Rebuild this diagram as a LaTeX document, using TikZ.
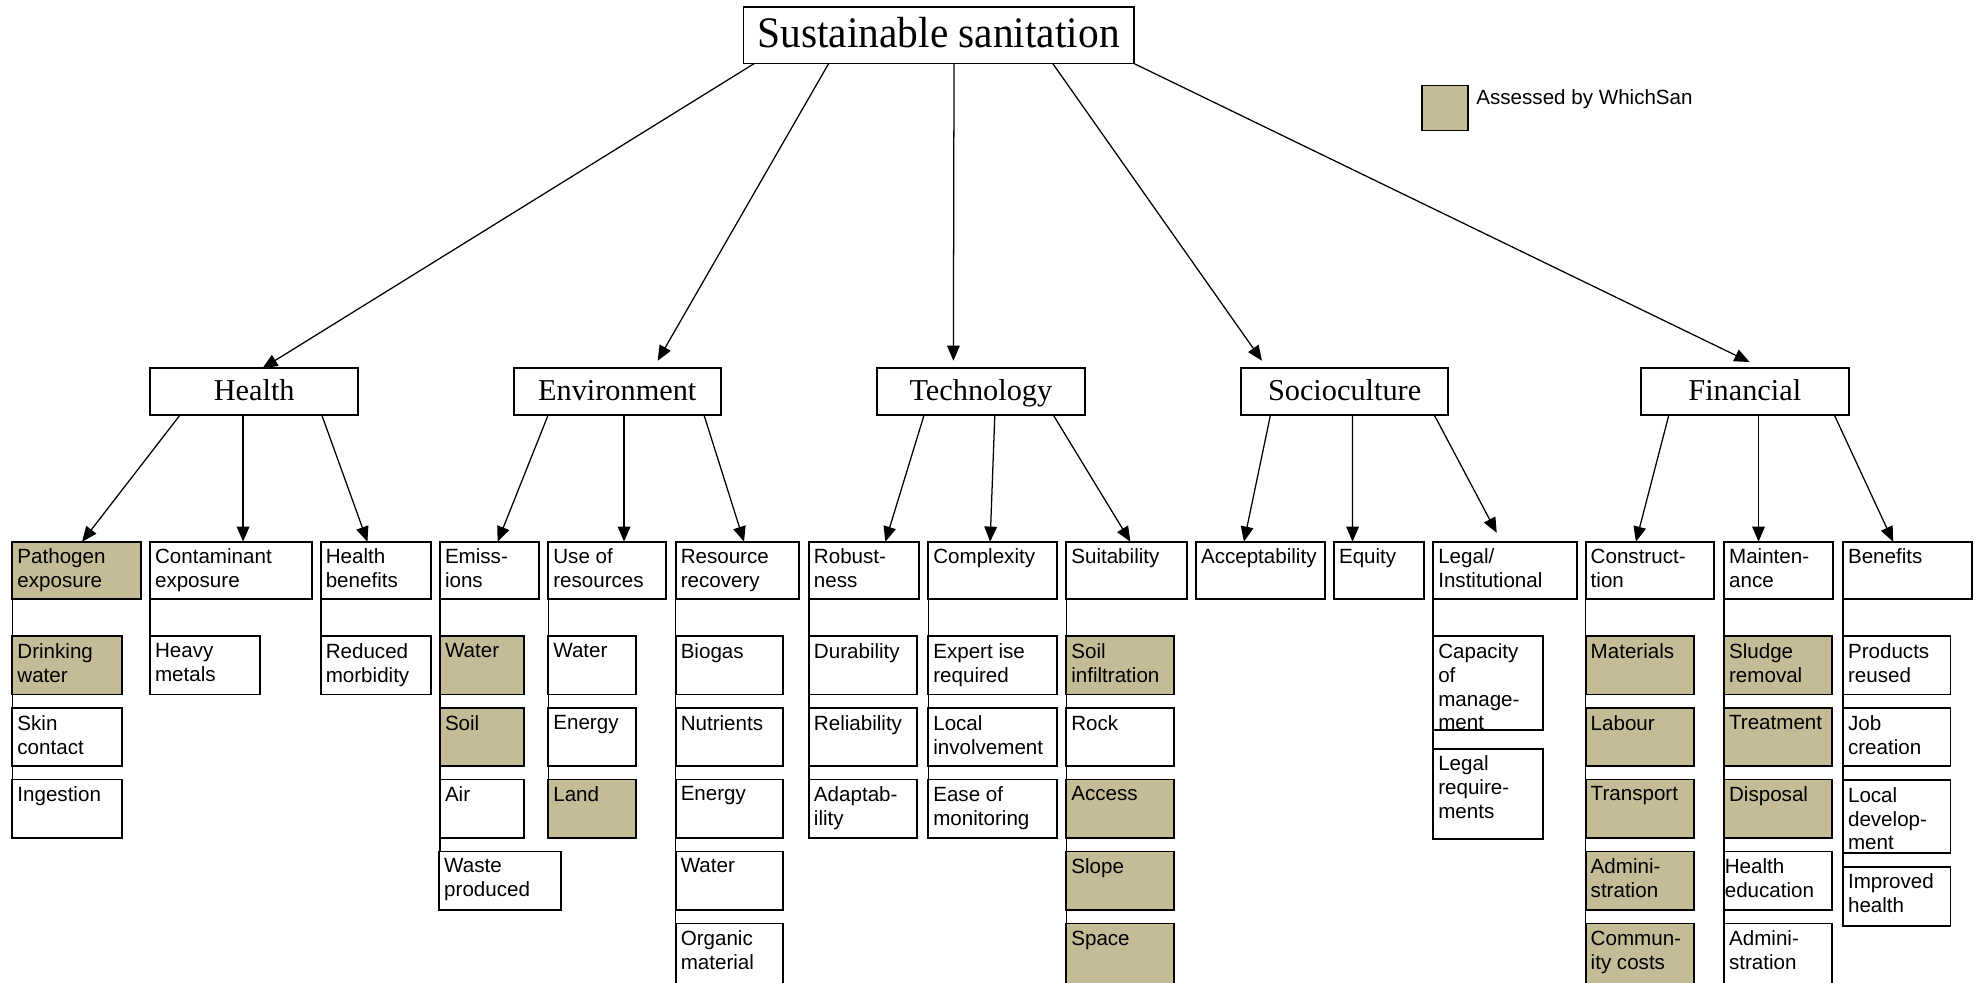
\documentclass[tikz,border=0pt]{standalone}
\usepackage{fontspec}
\setmainfont{Liberation Sans}
\newfontfamily\serifhd{Liberation Serif}
\newfontfamily\seriftitle[FakeStretch=0.95]{Liberation Serif}
\usetikzlibrary{arrows.meta,calc}
\definecolor{wsTan}{RGB}{196,188,151}
\newcommand\bodyfont{\fontsize{16.3}{18.9}\selectfont}
\newcommand\midfont{\serifhd\fontsize{24}{28}\selectfont}
\newcommand\titlefont{\seriftitle\fontsize{34.5}{40}\selectfont}
\tikzset{
  boxst/.style={draw, line width=1.4pt, inner sep=0pt, outer sep=0pt, anchor=north west},
  hdst/.style={boxst, font=\midfont, text height=16.4pt, text depth=2.1pt, minimum height=36.9pt},
  txtst/.style={inner sep=0pt, outer sep=0pt, anchor=north west, align=left, font=\bodyfont},
  arrst/.style={line width=1pt, -{Triangle[length=12pt,width=10pt]}},
  vlst/.style={line width=1.2pt},
}
% optional text xshift, name, x, y, w, h, fill, text
\newcommand\cbox[8][4]{%
  \node[boxst, fill=#7, minimum width=#5pt, minimum height=#6pt] (#2) at (#3,#4) {};
  \node[txtst] (#2t) at ([xshift=#1pt,yshift=-5.8pt]#2.north west) {#8};}
\begin{document}
\begin{tikzpicture}[x=1pt,y=-1pt]
\useasboundingbox (0,0) rectangle (1568,778.4);
\clip (0,0) rectangle (1568,778.4);

% title and main criteria
\node[boxst, font=\titlefont, text height=23.5pt, text depth=3.5pt, minimum width=309pt, minimum height=44.9pt] (title) at (588.8,5.3) {Sustainable sanitation};
\node[hdst, minimum width=165pt] (health) at (118.8,291.7) {Health};
\node[hdst, minimum width=164pt] (env) at (406.8,291.7) {Environment};
\node[hdst, minimum width=164.5pt] (tech) at (694.5,291.7) {Technology};
\node[hdst, minimum width=164pt] (socio) at (982.8,291.7) {Socioculture};
\node[hdst, minimum width=164.5pt] (fin) at (1299.5,291.7) {Financial};

% legend
\node[boxst, fill=wsTan, minimum width=36pt, minimum height=35.5pt] (legsq) at (1126.3,67.8) {};
\node[anchor=base west, inner sep=0pt, font=\bodyfont] (legtxt) at (1169,82.6) {Assessed by WhichSan};

% Health
\cbox{patho}{9.8}{429}{101.9}{45.6}{wsTan}{Pathogen\\exposure}
\cbox{drink}{9.8}{503.7}{87.1}{46.2}{wsTan}{Drinking\\water}
\cbox{skin}{9.8}{560.7}{87.1}{46.2}{white}{Skin\\contact}
\cbox{inges}{9.8}{617.3}{87.1}{46.2}{white}{Ingestion}
\cbox{contam}{118.8}{429}{128}{45.6}{white}{Contaminant\\exposure}
\cbox{heavy}{118.8}{503.7}{87.1}{46.2}{white}{Heavy\\metals}
\cbox{hben}{254}{429}{87.3}{45.6}{white}{Health\\benefits}
\cbox{morb}{254}{503.7}{87.3}{46.2}{white}{Reduced\\morbidity}

% Environment
\cbox{emis}{348.4}{429}{78.4}{45.6}{white}{Emiss-\\ions}
\cbox{ewater}{348.4}{503.7}{66.8}{46.2}{wsTan}{Water}
\cbox{esoil}{348.4}{560.7}{66.8}{46.2}{wsTan}{Soil}
\cbox{eair}{348.4}{617.3}{66.8}{46.2}{white}{Air}
\cbox{waste}{347.8}{674.3}{96.5}{46.2}{white}{Waste\\produced}
\cbox{useres}{434.2}{429}{93.2}{45.6}{white}{Use of\\resources}
\cbox{uwater}{434.2}{503.7}{69.7}{46.2}{white}{Water}
\cbox{uenergy}{434.2}{560.7}{69.7}{46.2}{white}{Energy}
\cbox{uland}{434.2}{617.3}{69.7}{46.2}{wsTan}{Land}
\cbox{resrec}{535.1}{429}{97.9}{45.6}{white}{Resource\\recovery}
\cbox{biogas}{535.1}{503.7}{84.7}{46.2}{white}{Biogas}
\cbox{nutr}{535.1}{560.7}{84.7}{46.2}{white}{Nutrients}
\cbox{renergy}{535.1}{617.3}{84.7}{46.2}{white}{Energy}
\cbox{rwater}{535.1}{674.3}{84.7}{46.2}{white}{Water}
\cbox{organic}{535.1}{731.3}{84.7}{50}{white}{Organic\\material}

% Technology
\cbox{robust}{640.6}{429}{87.2}{45.6}{white}{Robust-\\ness}
\cbox{durab}{640.6}{503.7}{85.8}{46.2}{white}{Durability}
\cbox{reliab}{640.6}{560.7}{85.8}{46.2}{white}{Reliability}
\cbox{adapt}{640.6}{617.3}{85.8}{46.2}{white}{Adaptab-\\ility}
\cbox{complex}{735.1}{429}{101.9}{45.6}{white}{Complexity}
\cbox{expert}{735.1}{503.7}{101.9}{46.2}{white}{Expert ise\\required}
\cbox{localinv}{735.1}{560.7}{101.9}{46.2}{white}{Local\\involvement}
\cbox{ease}{735.1}{617.3}{101.9}{46.2}{white}{Ease of\\monitoring}
\cbox{suit}{844.4}{429}{95.6}{45.6}{white}{Suitability}
\cbox{soilinf}{844.4}{503.7}{85.3}{46.2}{wsTan}{Soil\\infiltration}
\cbox{rock}{844.4}{560.7}{85.3}{46.2}{white}{Rock}
\cbox{access}{844.4}{617.3}{85.3}{46.2}{wsTan}{Access}
\cbox{slope}{844.4}{674.3}{85.3}{46.2}{wsTan}{Slope}
\cbox{space}{844.4}{731.3}{85.3}{50}{wsTan}{Space}

% Socioculture
\cbox{accept}{947.1}{429}{102.2}{45.6}{white}{Acceptability}
\cbox{equity}{1056.4}{429}{71.5}{45.6}{white}{Equity}
\cbox{legal}{1135}{429}{113.6}{45.6}{white}{Legal/\\Institutional}
\cbox{capac}{1135}{503.7}{87.2}{74.4}{white}{Capacity\\of\\manage-\\ment}
\cbox{legreq}{1135}{592.9}{87.2}{71.3}{white}{Legal\\require-\\ments}

% Financial
\cbox{constr}{1255.7}{429}{101.8}{45.6}{white}{Construct-\\tion}
\cbox{mater}{1255.7}{503.7}{85.8}{46.2}{wsTan}{Materials}
\cbox{labour}{1255.7}{560.7}{85.8}{46.2}{wsTan}{Labour}
\cbox{transp}{1255.7}{617.3}{85.8}{46.2}{wsTan}{Transport}
\cbox{cadmin}{1255.7}{674.3}{85.8}{46.2}{wsTan}{Admini-\\stration}
\cbox{commun}{1255.7}{731.3}{85.8}{50}{wsTan}{Commun-\\ity costs}
\cbox{maint}{1365.3}{429}{86.5}{45.6}{white}{Mainten-\\ance}
\cbox{sludge}{1365.3}{503.7}{85.2}{46.2}{wsTan}{Sludge\\removal}
\cbox{treat}{1365.3}{560.7}{85.2}{46.2}{wsTan}{Treatment}
\cbox{dispos}{1365.3}{617.3}{85.2}{46.2}{wsTan}{Disposal}
\cbox[0.6]{healthed}{1365.3}{674.3}{85.2}{46.2}{white}{Health\\education}
\cbox{madmin}{1365.3}{731.3}{85.2}{50}{white}{Admini-\\stration}
\cbox{benef}{1459.5}{429}{101.9}{45.6}{white}{Benefits}
\cbox{prodre}{1459.5}{503.7}{85.2}{46.2}{white}{Products\\reused}
\cbox{jobcr}{1459.5}{560.7}{85.2}{46.2}{white}{Job\\creation}
\cbox{locdev}{1459.5}{617.7}{85.2}{58}{white}{Local\\develop-\\ment}
\cbox{imphe}{1459.5}{686.3}{85.2}{47}{white}{Improved\\health}

% vertical sub-criteria lines
\draw[vlst] (patho.south west) -- (inges.north west);
\draw[vlst] (contam.south west) -- (heavy.north west);
\draw[vlst] (hben.south west) -- (morb.north west);
\draw[vlst] (emis.south west) -- (emis.south west |- waste.north);
\draw[vlst] (useres.south west) -- (uland.north west);
\draw[vlst] (resrec.south west) -- (organic.north west);
\draw[vlst] (robust.south west) -- (adapt.north west);
\draw[vlst] (complex.south west) -- (ease.north west);
\draw[vlst] (suit.south west) -- (space.north west);
\draw[vlst] (legal.south west) -- (legreq.north west);
\draw[vlst] (constr.south west) -- (commun.north west);
\draw[vlst] (maint.south west) -- (madmin.north west);
\draw[vlst] (benef.south west) -- (imphe.north west);

% title arrows
\draw[arrst] ([xshift=8.7pt]title.south west) -- ([xshift=89pt]health.north west);
\draw[arrst] ([xshift=67.5pt]title.south west) -- ([xshift=114pt,yshift=6pt]env.north west);
\draw[arrst] ([xshift=166.7pt]title.south west) -- ([xshift=60.5pt,yshift=6pt]tech.north west);
\draw[arrst] ([xshift=244.8pt]title.south west) -- ([xshift=16.6pt,yshift=6pt]socio.north west);
\draw[arrst] (title.south east) -- ([xshift=86pt,yshift=5pt]fin.north west);

% criteria arrows
\draw[arrst] ([xshift=23.8pt]health.south west) -- ([xshift=55.2pt]patho.north west);
\draw[arrst] ([xshift=73.7pt]health.south west) -- ([xshift=73.7pt]contam.north west);
\draw[arrst] ([xshift=136pt]health.south west) -- ([xshift=37pt]hben.north west);
\draw[arrst] ([xshift=27.3pt]env.south west) -- ([xshift=45.7pt]emis.north west);
\draw[arrst] ([xshift=87.4pt]env.south west) -- ([xshift=60pt]useres.north west);
\draw[arrst] ([xshift=150.7pt]env.south west) -- ([xshift=54.1pt]resrec.north west);
\draw[arrst] ([xshift=37.3pt]tech.south west) -- ([xshift=60.5pt]robust.north west);
\draw[arrst] ([xshift=93.3pt]tech.south west) -- ([xshift=49pt]complex.north west);
\draw[arrst] ([xshift=139.6pt]tech.south west) -- ([xshift=50.8pt]suit.north west);
\draw[arrst] ([xshift=23.3pt]socio.south west) -- ([xshift=38pt]accept.north west);
\draw[arrst] ([xshift=88.3pt]socio.south west) -- ([xshift=14.7pt]equity.north west);
\draw[arrst] ([xshift=153pt]socio.south west) -- ([xshift=50.3pt,yshift=7pt]legal.north west);
\draw[arrst] ([xshift=22.1pt]fin.south west) -- ([xshift=39.8pt]constr.north west);
\draw[arrst] ([xshift=93.1pt]fin.south west) -- ([xshift=27.3pt]maint.north west);
\draw[arrst] ([xshift=153.1pt]fin.south west) -- ([xshift=39.7pt]benef.north west);
\end{tikzpicture}
\end{document}
